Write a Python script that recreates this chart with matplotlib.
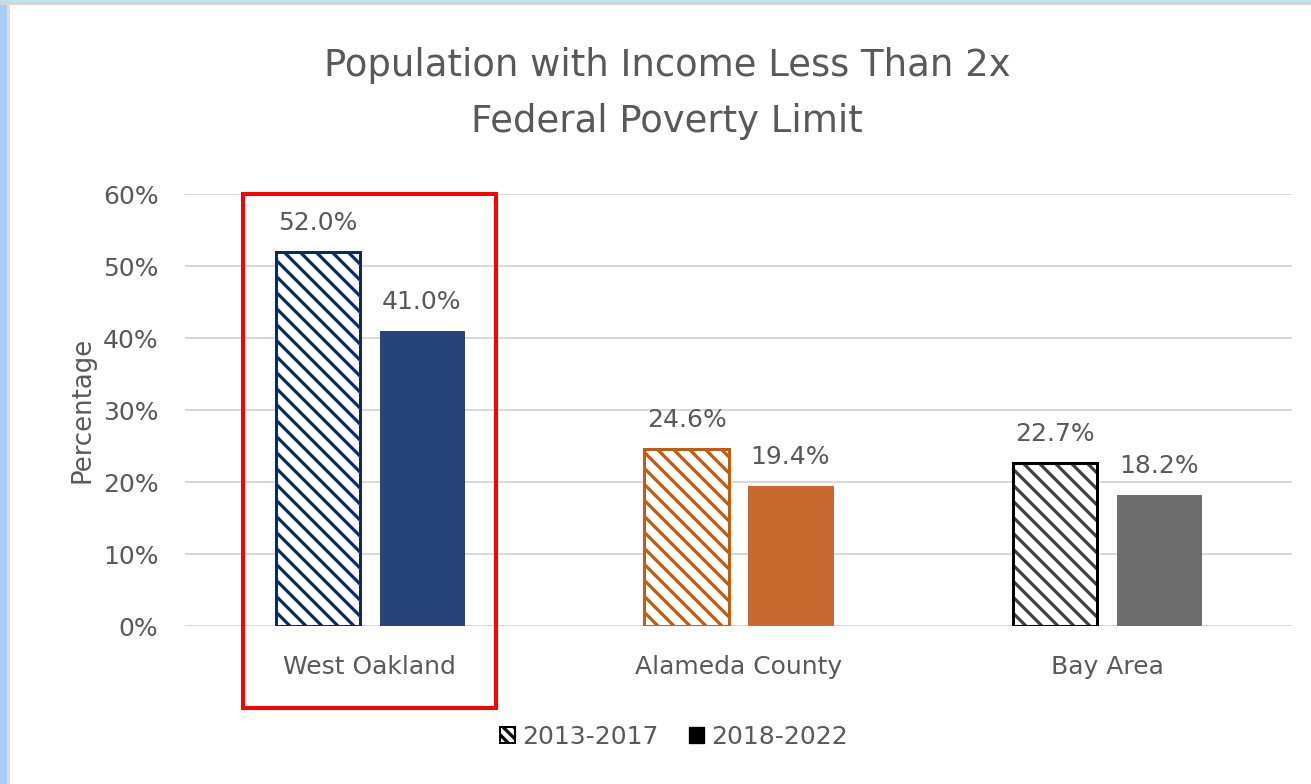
"""
Population with income less than 2x the federal poverty limit
West Oakland vs Alameda County vs Bay Area
"""
import matplotlib.pyplot as plt
from matplotlib.patches import Patch, Rectangle
import numpy as np

# data
# ---------------------------------------------------------------
categories = ['West Oakland', 'Alameda County', 'Bay Area']
pct_2013_2017 = [52.0, 24.6, 22.7]
pct_2018_2022 = [41.0, 19.4, 18.2]
series_labels = ['2013-2017', '2018-2022']
y_ticks = [0, 10, 20, 30, 40, 50, 60]

# colours for each place
hatch_colors = ['#0E2A66', '#C55A11', '#404040']
border_colors = ['#0E2A66', '#C55A11', '#000000']
solid_colors = ['#264478', '#C8692F', '#6E6E6E']

text_gray = '#595959'
grid_gray = '#D9D9D9'

# figure setup
# ---------------------------------------------------------------
DPI = 96
W, H = 1311, 784


def px(v):
    # pixels -> points at this dpi
    return v * 72 / DPI


plt.rcParams['font.family'] = ['DejaVu Sans']
plt.rcParams['hatch.linewidth'] = px(3.2)

fig = plt.figure(figsize=(W / DPI, H / DPI), dpi=DPI)
fig.patch.set_facecolor('white')

# screenshot frame (blue strip on left/top)
fig.patches.append(Rectangle((0, 0), 7 / W, 1, transform=fig.transFigure,
                             facecolor='#A9CDF7', edgecolor='none', zorder=0))
fig.patches.append(Rectangle((7 / W, 0), 3 / W, 1, transform=fig.transFigure,
                             facecolor='#DCDCDC', edgecolor='none', zorder=0))
fig.patches.append(Rectangle((0, 1 - 2 / H), 1, 2 / H, transform=fig.transFigure,
                             facecolor='#B5E3F5', edgecolor='none', zorder=0))
fig.patches.append(Rectangle((0, 1 - 5 / H), 1, 3 / H, transform=fig.transFigure,
                             facecolor='#D5D5D5', edgecolor='none', zorder=0))

ax = fig.add_axes([185.5 / W, 158 / H, 1106 / W, 432 / H])

x = np.arange(len(categories))
width = 0.229
offset = 0.141

# bars
# ---------------------------------------------------------------
for i in range(len(categories)):
    # hatched bar (2013-2017): hatch first, then border on top
    ax.bar(x[i] - offset, pct_2013_2017[i], width, facecolor='white',
           edgecolor=hatch_colors[i], hatch='\\\\', linewidth=0, zorder=3)
    ax.bar(x[i] - offset, pct_2013_2017[i], width, fill=False,
           edgecolor=border_colors[i], linewidth=px(3), zorder=4)
    # solid bar (2018-2022)
    ax.bar(x[i] + offset, pct_2018_2022[i], width, color=solid_colors[i],
           edgecolor=solid_colors[i], linewidth=px(1), zorder=3)

    # data labels
    ax.annotate(f'{pct_2013_2017[i]:.1f}%', (x[i] - offset, pct_2013_2017[i]),
                xytext=(0, px(17)), textcoords='offset points', ha='center',
                va='bottom', fontsize=px(25), color=text_gray)
    ax.annotate(f'{pct_2018_2022[i]:.1f}%', (x[i] + offset, pct_2018_2022[i]),
                xytext=(0, px(17)), textcoords='offset points', ha='center',
                va='bottom', fontsize=px(25), color=text_gray)

# axes formatting
# ---------------------------------------------------------------
ax.set_xlim(-0.5, 2.5)
ax.set_ylim(0, 60.05)
ax.set_yticks(y_ticks)
ax.set_yticklabels([f'{t}%' for t in y_ticks])
ax.set_xticks(x)
ax.set_xticklabels(categories)
ax.tick_params(axis='y', length=0, pad=px(27), labelsize=px(25), labelcolor=text_gray)
ax.tick_params(axis='x', length=0, pad=px(29), labelsize=px(25), labelcolor=text_gray)
for s in ax.spines.values():
    s.set_visible(False)
ax.yaxis.grid(True, color=grid_gray, linewidth=px(2), zorder=0)
ax.set_axisbelow(True)
ax.set_ylabel('Percentage', fontsize=px(26), color=text_gray, labelpad=px(7))

# title (two lines)
fig.text(0.509, 1 - 65 / H, 'Population with Income Less Than 2x',
         ha='center', va='center', fontsize=px(37), color=text_gray)
fig.text(0.509, 1 - 122 / H, 'Federal Poverty Limit',
         ha='center', va='center', fontsize=px(37), color=text_gray)

# legend
handles = [Patch(facecolor='white', edgecolor='black', hatch='\\\\\\', linewidth=px(2)),
           Patch(facecolor='black', edgecolor='black')]
fig.legend(handles, series_labels, loc='center', bbox_to_anchor=(674 / W, 1 - 737 / H),
           ncol=2, frameon=False, fontsize=px(25), labelcolor=text_gray,
           handlelength=0.6, handleheight=0.6, handletextpad=0.3, columnspacing=1.2)

# red highlight box around West Oakland
fig.patches.append(Rectangle((243 / W, 1 - 708 / H), 253 / W, 514 / H,
                             transform=fig.transFigure, fill=False,
                             edgecolor='#FF0000', linewidth=px(4), zorder=10))

plt.savefig('out.png', dpi=DPI)
